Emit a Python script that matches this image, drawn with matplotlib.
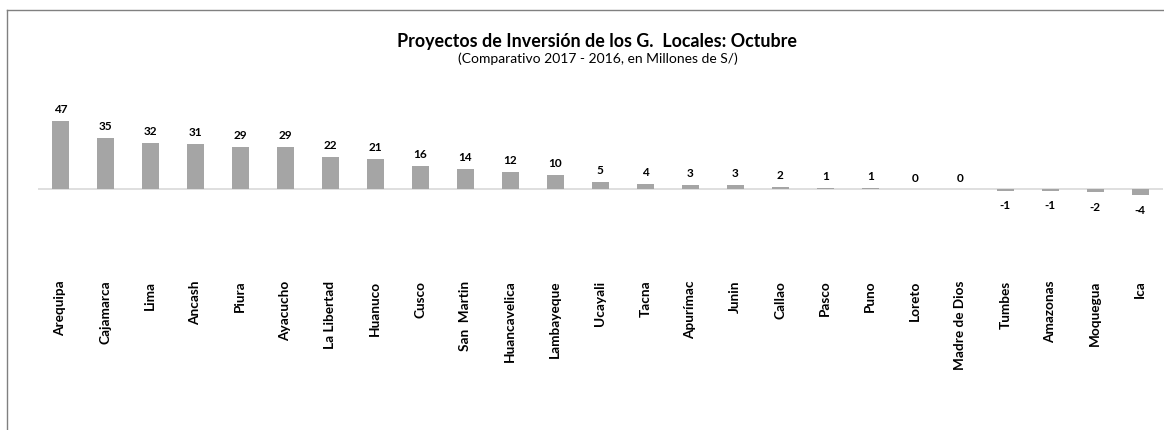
import numpy as np
import matplotlib.pyplot as plt
from matplotlib.lines import Line2D

plt.rcParams['font.family'] = ['Lato', 'DejaVu Sans']

regiones = ["Arequipa", "Cajamarca", "Lima", "Ancash", "Piura", "Ayacucho",
            "La Libertad", "Huanuco", "Cusco", "San  Martin", "Huancavelica",
            "Lambayeque", "Ucayali", "Tacna", "Apurímac", "Junin", "Callao",
            "Pasco", "Puno", "Loreto", "Madre de Dios", "Tumbes", "Amazonas",
            "Moquegua", "Ica"]
variacion = [47, 35, 32, 31, 29, 29, 22, 21, 16, 14, 12, 10, 5, 4, 3, 3, 2,
             1, 1, 0, 0, -1, -1, -2, -4]

W, H = 1164, 431
fig = plt.figure(figsize=(W / 100, H / 100), dpi=100)

# axes placed in pixel terms: baseline sits around y=190 px from the top
px_left, px_right = 37.8, 1162.8
px_top, px_bottom = 100, 280
ax = fig.add_axes([px_left / W, 1 - px_bottom / H,
                   (px_right - px_left) / W, (px_bottom - px_top) / H])

x = np.arange(len(regiones))
bars = ax.bar(x, variacion, width=0.39, color="#a5a5a5", zorder=2)

ax.set_xlim(-0.5, len(regiones) - 0.5)
ax.set_ylim(-60.97, 61.65)
ax.axhline(0, color="#d9d9d9", linewidth=1.2, zorder=1)

for spine in ax.spines.values():
    spine.set_visible(False)
ax.set_yticks([])
ax.set_xticks(x)
ax.set_xticklabels(regiones, rotation=90, va="top", ha="center",
                   fontsize=9.8, fontweight="bold")
ax.tick_params(axis="x", length=0, pad=0.5)

# value labels above/below each bar
for xi, v in zip(x, variacion):
    if v >= 0:
        ax.annotate(f"{v}", (xi, v), xytext=(0, 5), textcoords="offset points",
                    ha="center", va="bottom", fontsize=8.5, fontweight="bold")
    else:
        ax.annotate(f"{v}", (xi, v), xytext=(0, -6), textcoords="offset points",
                    ha="center", va="top", fontsize=8.5, fontweight="bold")

fig.text(597 / W, 1 - 41 / H, "Proyectos de Inversión de los G.  Locales: Octubre",
         ha="center", va="center", fontsize=12.9, fontweight="bold")
fig.text(598 / W, 1 - 59 / H, "(Comparativo 2017 - 2016, en Millones de S/)",
         ha="center", va="center", fontsize=10)

# chart frame (left and top edges)
fig.add_artist(Line2D([7 / W, 7 / W], [0, 1 - 11 / H], color="#808080", linewidth=1))
fig.add_artist(Line2D([7 / W, 1], [1 - 11 / H, 1 - 11 / H], color="#808080", linewidth=1))

fig.savefig("out.png", dpi=100, facecolor="white")
